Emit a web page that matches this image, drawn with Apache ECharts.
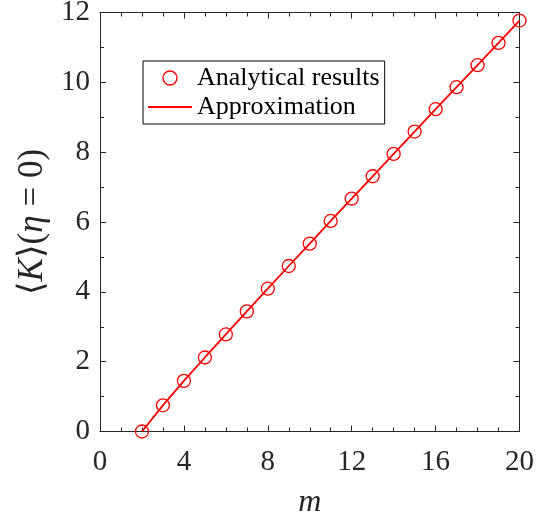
<!DOCTYPE html>
<html><head><meta charset="utf-8">
<script src="https://cdn.jsdelivr.net/npm/echarts@6/dist/echarts.min.js"></script>
<style>html,body{margin:0;padding:0;background:#fff}#c{width:538px;height:514px}</style>
</head><body><div id="c"></div>
<script>
const mValues = [2,3,4,5,6,7,8,9,10,11,12,13,14,15,16,17,18,19,20];
const analytical = [0,0.75,1.45,2.12,2.78,3.44,4.09,4.74,5.38,6.03,6.67,7.31,7.95,8.59,9.23,9.86,10.49,11.13,11.77];
const approximation = [0,0.75,1.45,2.12,2.78,3.44,4.09,4.74,5.38,6.03,6.67,7.31,7.95,8.59,9.23,9.86,10.49,11.13,11.77];
const seriesNames = ['Analytical results','Approximation'];

const axisColor = '#262626';
const serif = "'Liberation Serif', 'DejaVu Serif', serif";
const chart = echarts.init(document.getElementById('c'), null, {renderer:'canvas'});
const baseAxis = {
  axisLine:{show:true,onZero:false,lineStyle:{color:axisColor,width:1}},
  axisTick:{show:true,inside:true,length:6,lineStyle:{color:axisColor}},
  minorTick:{show:true,splitNumber:2,length:4,lineStyle:{color:axisColor}},
  splitLine:{show:false}
};
chart.setOption({
  animation:false,
  grid:{left:100,top:12.5,right:18.5,bottom:82.5,containLabel:false,outerBoundsMode:'none'},
  legend:{
    left:143, top:61, orient:'vertical',
    data:[
      {name:seriesNames[0],icon:'circle',itemStyle:{color:'rgba(0,0,0,0)',borderColor:'#ff0000',borderWidth:1.3}},
      {name:seriesNames[1],icon:'path://M0,0 L44,0 L44,2 L0,2 Z',itemStyle:{color:'#ff0000',borderWidth:0}}
    ],
    backgroundColor:'#fff', borderColor:'#000', borderWidth:1, borderRadius:0,
    padding:[4,5,4,5], itemGap:3, itemWidth:44, itemHeight:14,
    textStyle:{fontFamily:serif,fontSize:26,lineHeight:26,color:'#000'}
  },
  xAxis:[
    Object.assign({}, baseAxis, {type:'value',min:0,max:20,interval:4,position:'bottom',
      minorTick:{show:true,splitNumber:4,length:4,lineStyle:{color:axisColor}},
      axisLabel:{fontFamily:serif,fontSize:29,color:axisColor,margin:16},
      name:'m',nameLocation:'middle',nameGap:55,
      nameTextStyle:{fontFamily:serif,fontStyle:'italic',fontSize:32,color:axisColor}}),
    Object.assign({}, baseAxis, {type:'value',min:0,max:20,interval:4,position:'top',
      minorTick:{show:true,splitNumber:4,length:4,lineStyle:{color:axisColor}},
      axisLabel:{show:false}})
  ],
  yAxis:[
    Object.assign({}, baseAxis, {type:'value',min:0,max:12,interval:2,position:'left',
      axisLabel:{fontFamily:serif,fontSize:29,color:axisColor,margin:10},
      name:'{n|\u27E8}{i|K}{n|\u27E9(}{i|\u03B7}{n| = 0)}',nameLocation:'middle',nameGap:50,nameRotate:90,
      nameTextStyle:{rich:{
        n:{fontFamily:serif,fontSize:35,color:axisColor},
        i:{fontFamily:serif,fontStyle:'italic',fontSize:35,color:axisColor}
      }}}),
    Object.assign({}, baseAxis, {type:'value',min:0,max:12,interval:2,position:'right',
      axisLabel:{show:false}})
  ],
  series:[
    {name:seriesNames[1],type:'line',data:mValues.map((m,i)=>[m,approximation[i]]),
      symbol:'none',lineStyle:{color:'#ff0000',width:1.8},itemStyle:{color:'#ff0000'},z:2},
    {name:seriesNames[0],type:'scatter',data:mValues.map((m,i)=>[m,analytical[i]]),
      symbol:'circle',symbolSize:13,
      itemStyle:{color:'rgba(0,0,0,0)',borderColor:'#ff0000',borderWidth:1.3,opacity:1},z:3}
  ]
});
</script></body></html>
